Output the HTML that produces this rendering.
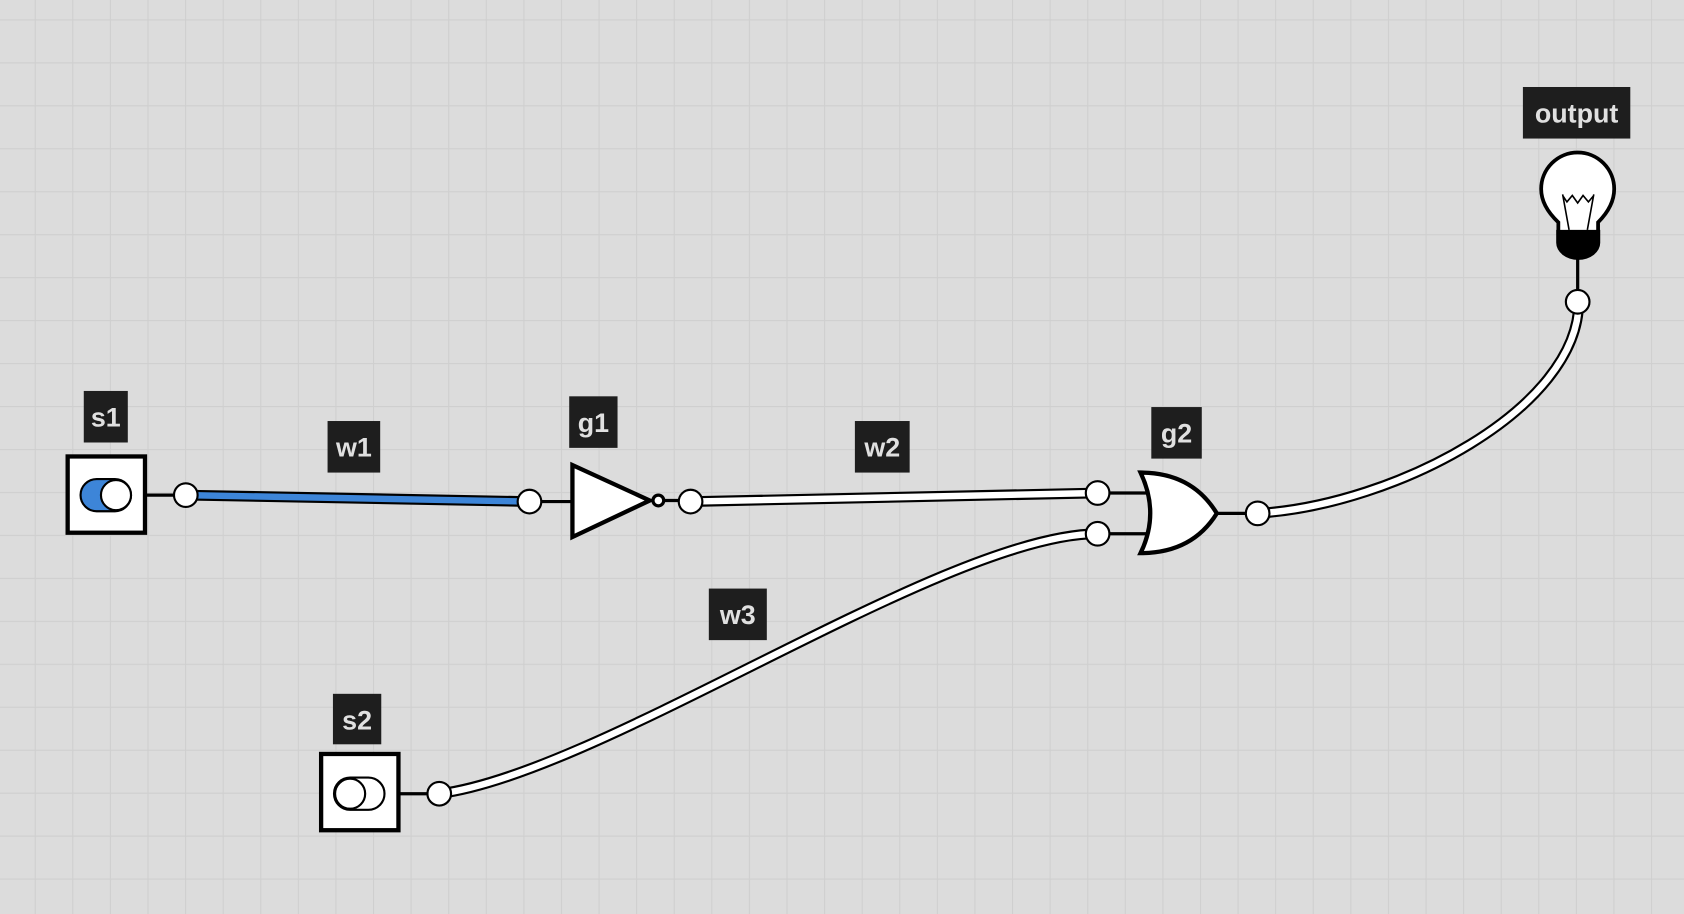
<!DOCTYPE html>
<html><head><meta charset="utf-8"><style>
html,body{margin:0;padding:0;background:#dcdcdc;}
svg{display:block}
text{font-family:"Liberation Sans",sans-serif;font-weight:bold;font-size:25px;fill:#e0e0e0;}
</style></head><body>
<svg width="1684" height="914" viewBox="0 0 1568 851" preserveAspectRatio="none" xmlns="http://www.w3.org/2000/svg">
<defs>
<pattern id="g" x="32.3" y="18" width="35" height="40" patternUnits="userSpaceOnUse">
<path d="M0 0V40M0 0H35" stroke="#cfcfcf" stroke-width="2" fill="none"/>
</pattern>
</defs>
<rect width="1568" height="851" fill="#dcdcdc"/>
<rect width="1568" height="851" fill="url(#g)"/>

<g stroke="#000" stroke-width="3">
<line x1="135" y1="461" x2="173" y2="461"/>
<line x1="493" y1="467" x2="533" y2="467"/>
<line x1="618" y1="466" x2="643" y2="466"/>
<line x1="1022" y1="459" x2="1068" y2="459"/>
<line x1="1022" y1="497" x2="1068" y2="497"/>
<line x1="1133" y1="478" x2="1171" y2="478"/>
<line x1="1469" y1="240" x2="1469" y2="281"/>
<line x1="371" y1="739" x2="409" y2="739"/>
</g>

<g fill="none" stroke-linecap="round">
<path d="M173 461 L493 467" stroke="#000" stroke-width="10"/>
<path d="M173 461 L493 467" stroke="#3d85d8" stroke-width="6"/>
<path d="M643 467 L1022 459" stroke="#000" stroke-width="10"/>
<path d="M643 467 L1022 459" stroke="#fff" stroke-width="6"/>
<path d="M409 739 C560 720 880 497 1022 497" stroke="#000" stroke-width="10"/>
<path d="M409 739 C560 720 880 497 1022 497" stroke="#fff" stroke-width="6"/>
<path d="M1171 478 C1300 470 1470 380 1470 281" stroke="#000" stroke-width="10"/>
<path d="M1171 478 C1300 470 1470 380 1470 281" stroke="#fff" stroke-width="6"/>
</g>

<rect x="63" y="425" width="72" height="71" fill="#fff" stroke="#000" stroke-width="4"/>
<rect x="75" y="446" width="47" height="30" rx="15" fill="#3d85d8" stroke="#000" stroke-width="2"/>
<circle cx="108" cy="461" r="14" fill="#fff" stroke="#000" stroke-width="2"/>
<rect x="299" y="702" width="72" height="71" fill="#fff" stroke="#000" stroke-width="4"/>
<rect x="311" y="724" width="47" height="30" rx="15" fill="#fff" stroke="#000" stroke-width="2"/>
<circle cx="326" cy="739" r="14" fill="#fff" stroke="#000" stroke-width="2"/>

<path d="M533 433 L605 466 L533 500 Z" fill="#fff" stroke="#000" stroke-width="4"/>
<circle cx="613" cy="466" r="5" fill="#fff" stroke="#000" stroke-width="3"/>

<path d="M1062 440 Q1110 440 1133 478 Q1110 515 1062 515 Q1080 478 1062 440 Z" fill="#fff" stroke="#000" stroke-width="4"/>

<path d="M1451 217 L1451 207 Q1435 192 1435 176 A34 34 0 1 1 1503 176 Q1503 192 1488 207 L1488 217 Z" fill="#fff" stroke="#000" stroke-width="3.5"/>
<path d="M1449 214 L1490 214 L1490 226 A20.5 16 0 0 1 1449 226 Z" fill="#000"/>
<path d="M1455 181 L1461 214 M1484 181 L1478 214 M1455 182 l4 6 5-6 5 7 5-7 5 6 5-6" fill="none" stroke="#000" stroke-width="1.5"/>

<g fill="#fff" stroke="#000" stroke-width="2">
<circle cx="173" cy="461" r="11"/>
<circle cx="493" cy="467" r="11"/>
<circle cx="643" cy="467" r="11"/>
<circle cx="1022" cy="459" r="11"/>
<circle cx="1022" cy="497" r="11"/>
<circle cx="1171" cy="478" r="11"/>
<circle cx="1469" cy="281" r="11"/>
<circle cx="409" cy="739" r="11"/>
</g>

<g fill="#1e1e1e">
<rect x="78" y="364" width="41" height="48"/>
<rect x="305" y="392" width="49" height="48"/>
<rect x="530" y="369" width="45" height="48"/>
<rect x="796" y="392" width="51" height="48"/>
<rect x="1072" y="379" width="47" height="48"/>
<rect x="660" y="548" width="54" height="48"/>
<rect x="310" y="646" width="45" height="47"/>
<rect x="1418" y="81" width="100" height="48"/>
</g>
<g text-anchor="middle">
<text x="98.5" y="397">s1</text>
<text x="329.5" y="425">w1</text>
<text x="552.5" y="402">g1</text>
<text x="821.5" y="425">w2</text>
<text x="1095.5" y="412">g2</text>
<text x="687" y="581">w3</text>
<text x="332.5" y="679">s2</text>
<text x="1468" y="114">output</text>
</g>
</svg>
</body></html>
